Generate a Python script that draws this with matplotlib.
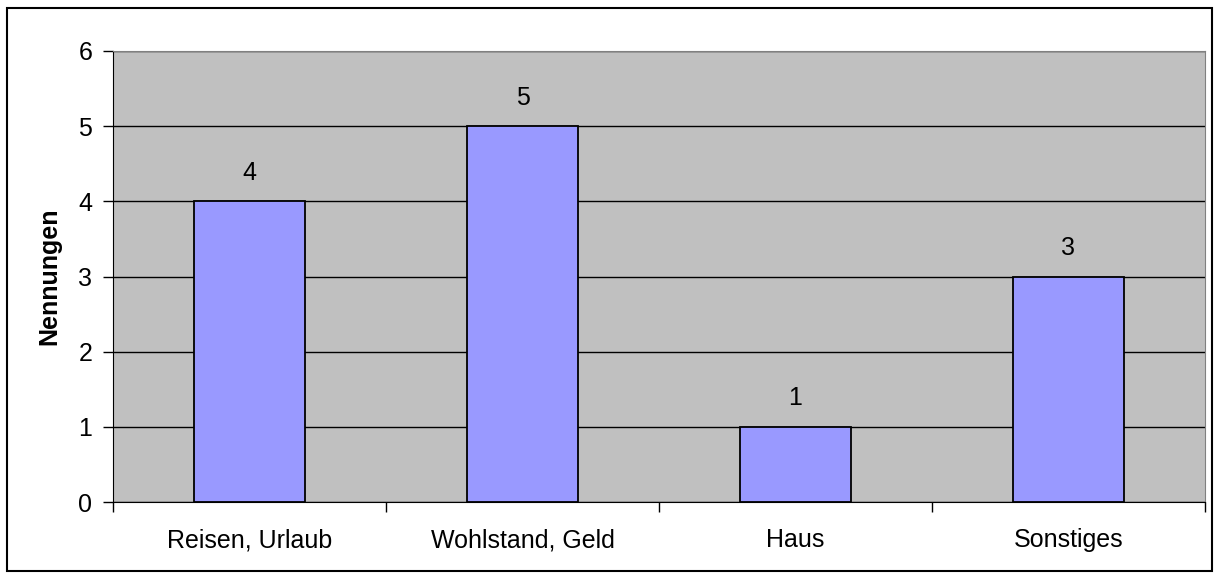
import matplotlib.pyplot as plt
from matplotlib.patches import Rectangle

categories = ['Reisen, Urlaub', 'Wohlstand, Geld', 'Haus', 'Sonstiges']
values = [4, 5, 1, 3]
y_ticks = [0, 1, 2, 3, 4, 5, 6]

plt.rcParams['font.family'] = ['Liberation Sans', 'DejaVu Sans']
fs = 18

fig = plt.figure(figsize=(12.2, 5.78), dpi=100)
ax = fig.add_axes([113 / 1220, 1 - 502 / 578, 1092 / 1220, 451 / 578])
ax.set_facecolor('#C0C0C0')

x = list(range(len(categories)))
ax.bar(x, values, width=0.403, color='#9999FF', edgecolor='black', linewidth=1.3, zorder=3)
for xi, v in zip(x, values):
    ax.text(xi, v + 0.22, str(v), ha='center', va='bottom', fontsize=fs)

ax.set_xlim(-0.5, len(categories) - 0.5)
ax.set_ylim(0, 6)
ax.set_yticks(y_ticks)
ax.yaxis.grid(True, color='black', linewidth=1, zorder=1)
ax.set_axisbelow(True)

ax.set_xticks([i - 0.5 for i in range(len(categories) + 1)])
ax.set_xticklabels([])
ax.set_xticks(x, minor=True)
ax.set_xticklabels(categories, minor=True, fontsize=fs)
ax.tick_params(axis='x', which='minor', length=0, pad=19)
ax.tick_params(axis='x', which='major', length=7, width=1)
ax.tick_params(axis='y', length=7, width=1, labelsize=fs, pad=8)

ax.set_ylabel('Nennungen', fontsize=fs, fontweight='bold', labelpad=12)

ax.spines['left'].set_color('black')
ax.spines['bottom'].set_color('black')
ax.spines['top'].set_color('#808080')
ax.spines['right'].set_color('#808080')

fig.patches.append(Rectangle((7 / 1220, 7 / 578), 1205 / 1220, 563 / 578,
                             transform=fig.transFigure, fill=False,
                             edgecolor='black', linewidth=1.5))

fig.savefig('out.png', dpi=100)
